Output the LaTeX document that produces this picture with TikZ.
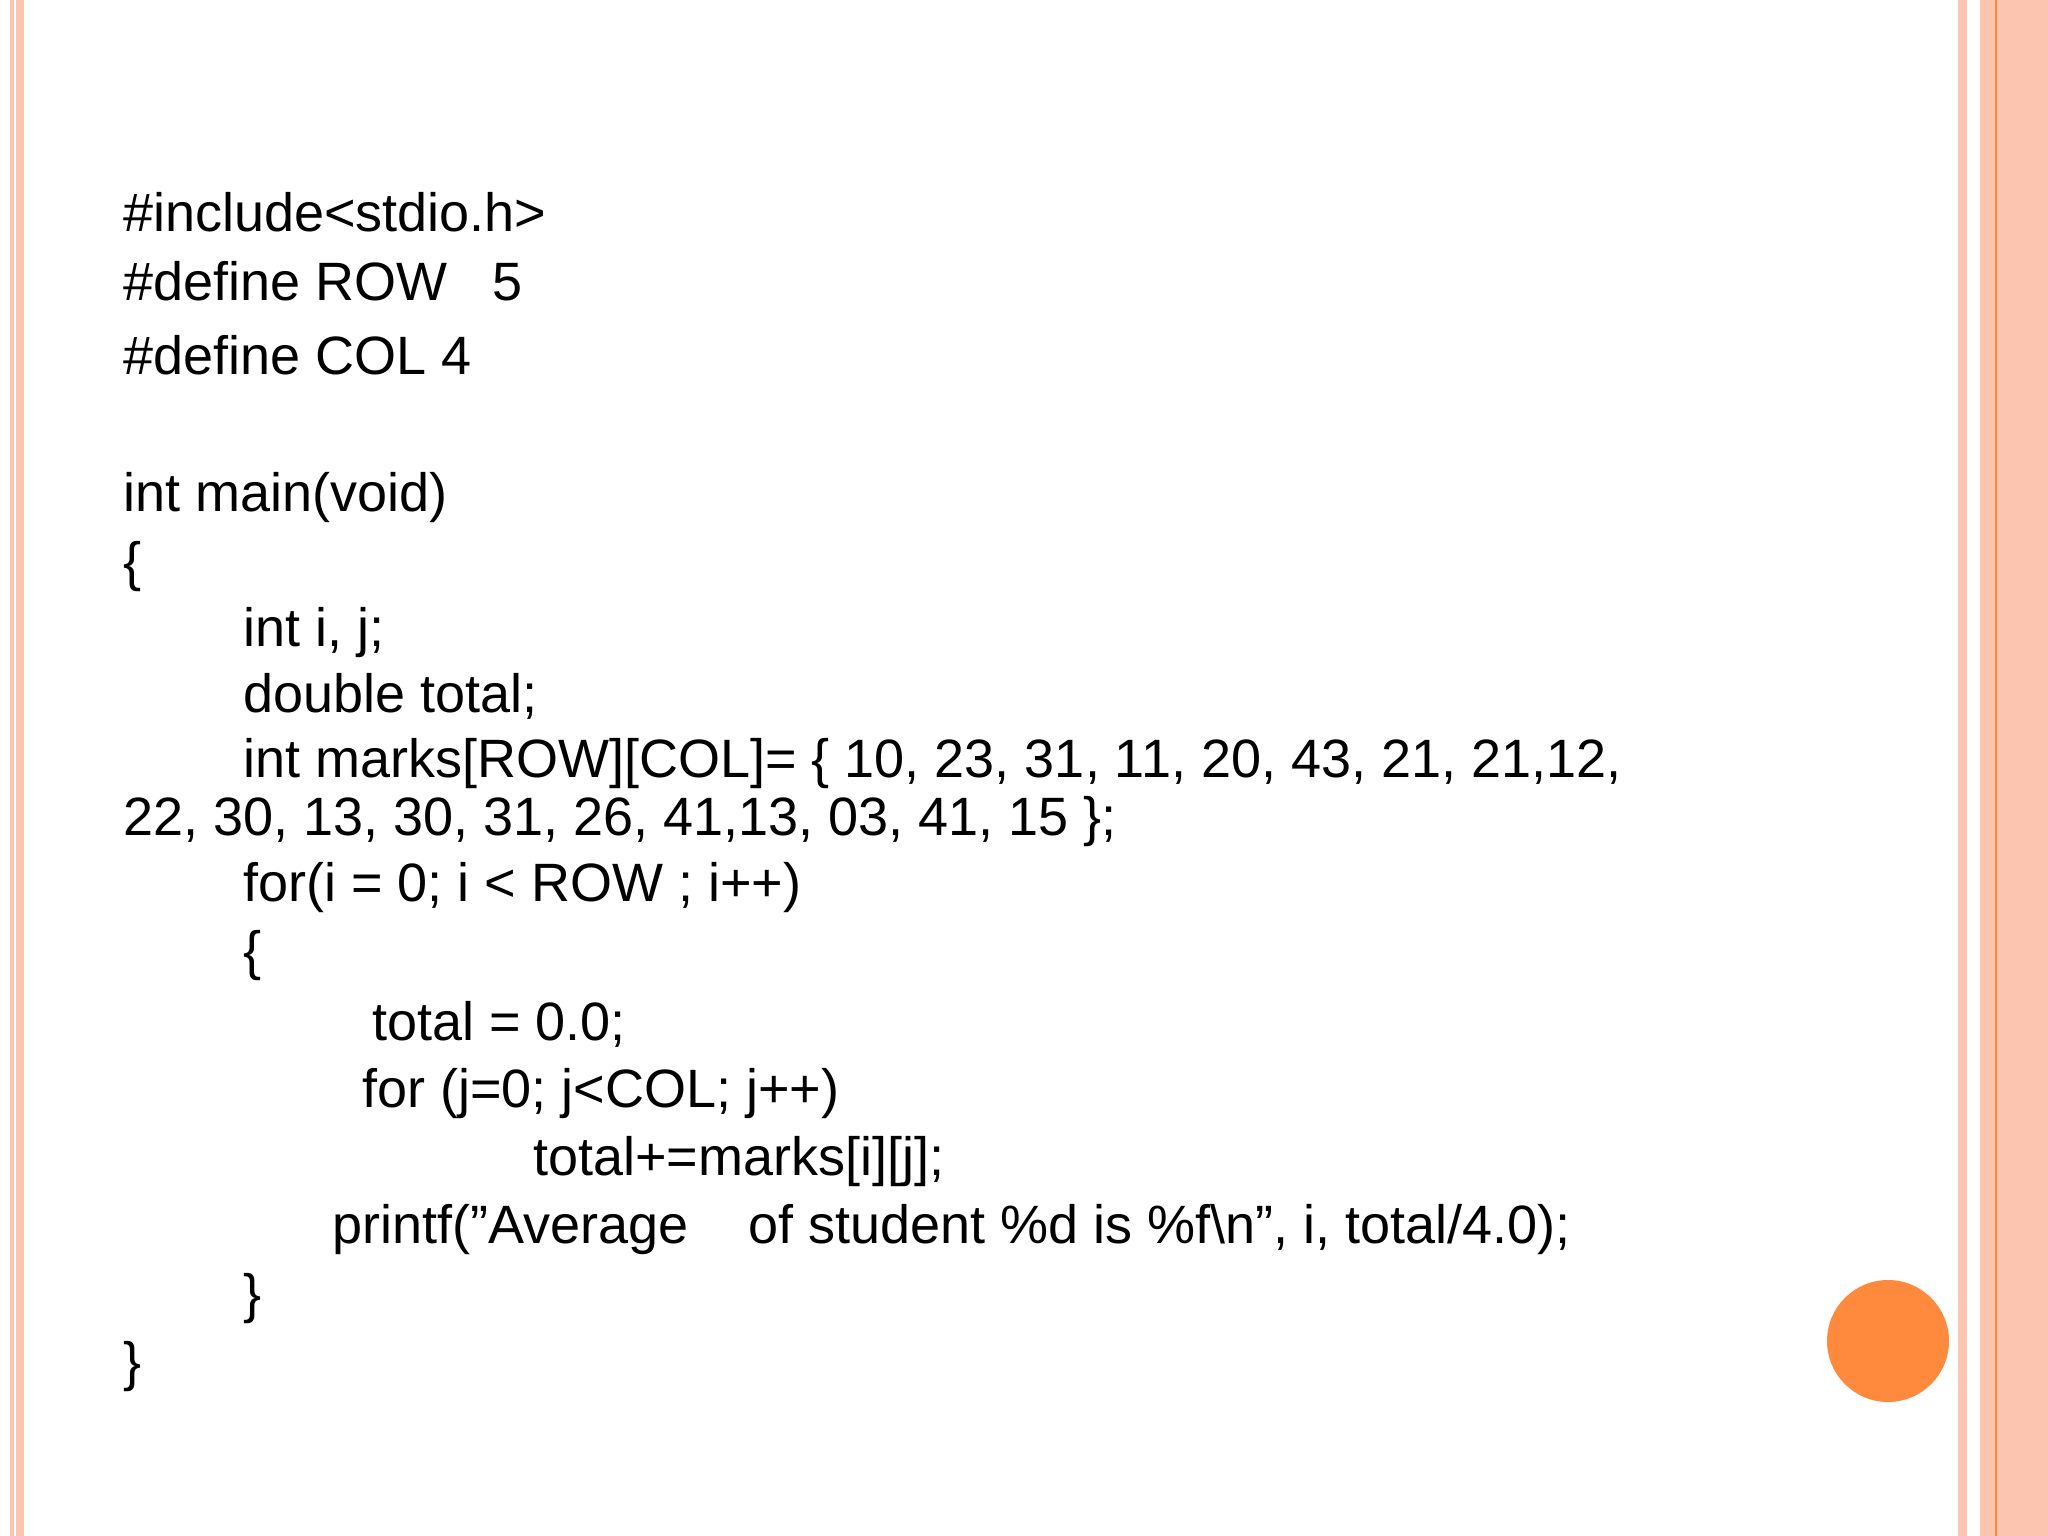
\documentclass[tikz,border=0pt]{standalone}
\usepackage{fontspec}
\setmainfont{Liberation Sans}
\definecolor{pk}{HTML}{FCC5B0}
\definecolor{org}{HTML}{FF8A3D}
\begin{document}
\begin{tikzpicture}[x=1pt,y=-1pt,
  code/.style={anchor=base west,inner sep=0pt,font=\fontsize{54}{60}\selectfont}]
\useasboundingbox (0,0) rectangle (2048,1536);
\fill[white] (0,0) rectangle (2048,1536);
\fill[pk] (10,0) rectangle (14,1536);
\fill[pk] (16,0) rectangle (24,1536);
\fill[pk] (1958,0) rectangle (1967,1536);
\fill[pk] (1980,0) rectangle (2048,1536);
\draw[org,line width=1.2pt] (1996,0) -- (1996,1536);
\node[circle,fill=org,minimum size=122pt,inner sep=0pt] (dot) at (1888,1341) {};
\node[code] (l1) at (123,231) {\#include<stdio.h>};
\node[code] (l2) at (123,300) {\#define ROW \ \ 5};
\node[code] (l3) at (123,374) {\#define COL 4};
\node[code] (l4) at (123,511) {int main(void)};
\node[code] (l5) at (123,580) {\{};
\node[code] (l6) at (243,646) {int i, j;};
\node[code] (l7) at (243,712) {double total;};
\node[code] (l8) at (243,777) {int marks[ROW][COL]= \{ 10, 23, 31, 11, 20, 43, 21, 21,12,};
\node[code] (l9) at (123,835) {22, 30, 13, 30, 31, 26, 41,13, 03, 41, 15 \};};
\node[code] (l10) at (243,901) {for(i = 0; i < ROW ; i++)};
\node[code] (l11) at (243,969) {\{};
\node[code] (l12) at (372,1040) {total = 0.0;};
\node[code] (l13) at (362,1107) {for (j=0; j<COL; j++)};
\node[code] (l14) at (533,1175) {total+=marks[i][j];};
\node[code] (l15) at (332,1243) {printf("Average \ \ \ of student \%d is \%f\textbackslash n", i, total/4.0);};
\node[code] (l16) at (243,1312) {\}};
\node[code] (l17) at (123,1380) {\}};
\end{tikzpicture}
\end{document}
